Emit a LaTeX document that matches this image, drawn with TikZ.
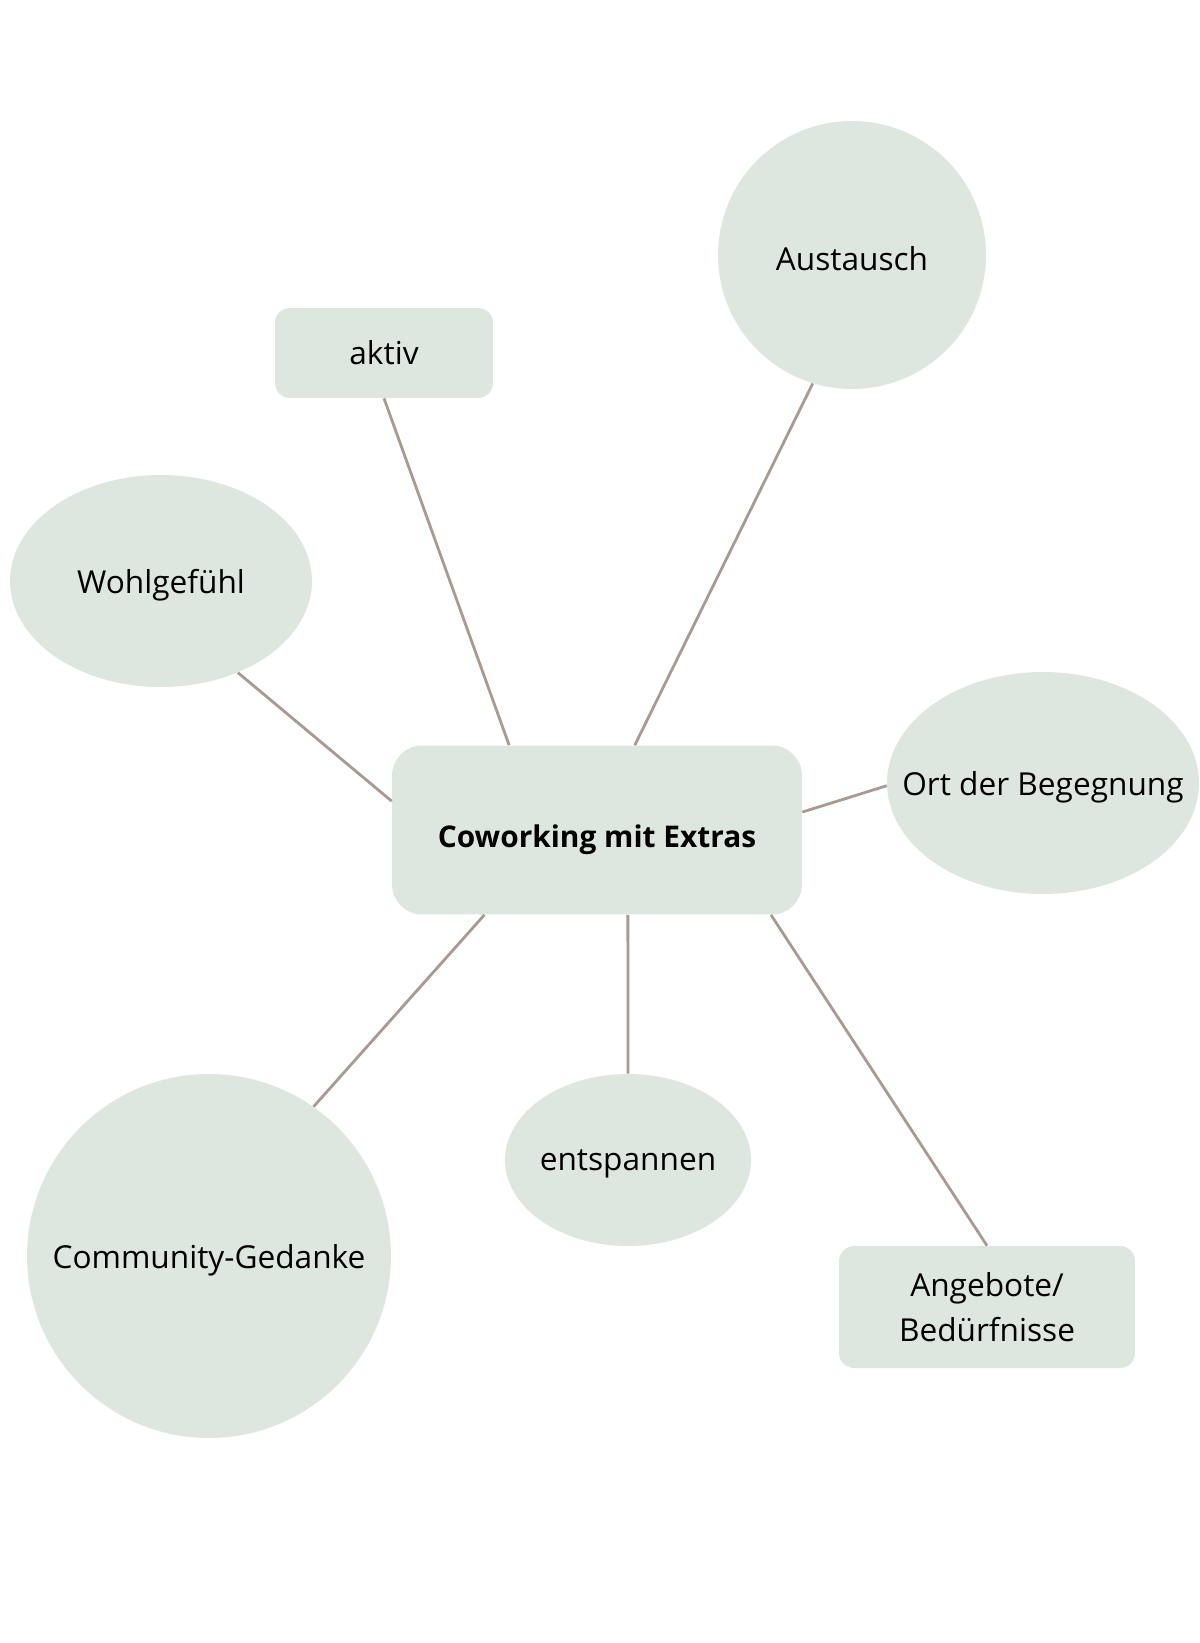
\documentclass[tikz,border=0pt]{standalone}
\usepackage{fontspec}
\setmainfont{Open Sans}
\usetikzlibrary{shapes.geometric}
\definecolor{csage}{HTML}{DDE7E0}
\definecolor{cline}{HTML}{A99A93}

\begin{document}
\begin{tikzpicture}[x=0.02cm,y=-0.02cm,
    box/.style={fill=csage,draw=none,rounded corners=0.3cm,align=center,
      font=\fontsize{18}{26}\selectfont},
    bubble/.style={ellipse,fill=csage,draw=none,inner sep=0pt,
      label={[font=\fontsize{18}{26}\selectfont,yshift=-0.08cm]center:#1}},
    link/.style={cline,line width=1.6pt}]
  \useasboundingbox[fill=white] (0,0) rectangle (1200,1643);
  % centre
  \node[box,rounded corners=0.6cm,minimum width=8.2cm,minimum height=3.38cm,
    text height=0.82cm,text depth=0.14cm,
    font=\fontsize{17}{25}\selectfont\bfseries] (center) at (597,830) {Coworking mit Extras};
  % satellites
  \node[box,minimum width=4.36cm,minimum height=1.8cm] (aktiv) at (384,353) {aktiv};
  \node[bubble=Austausch,minimum width=5.36cm,minimum height=5.36cm] (austausch) at (852,255) {};
  \node[bubble=Wohlgefühl,minimum width=6.04cm,minimum height=4.24cm] (wohl) at (161,581) {};
  \node[bubble=Ort der Begegnung,minimum width=6.24cm,minimum height=4.44cm] (ort) at (1043,783) {};
  \node[bubble=Community-Gedanke,minimum width=7.28cm,minimum height=7.28cm] (community) at (209,1256) {};
  \node[bubble=entspannen,minimum width=4.92cm,minimum height=3.44cm] (entspannen) at (628,1160) {};
  \node[box,minimum width=5.92cm,minimum height=2.44cm] (angebote) at (987,1307) {Angebote/\\Bedürfnisse};
  % links
  \draw[link] (aktiv.south) -- (center.136);
  \draw[link] (austausch.253) -- (center.66);
  \draw[link] (wohl.-50) -- (center.172);
  \draw[link] (ort.181) -- (center.5);
  \draw[link] (community.55) -- (center.217);
  \draw[link] (entspannen.north) -- (center.290);
  \draw[link] (angebote.north) -- (center.334);
\end{tikzpicture}
\end{document}
